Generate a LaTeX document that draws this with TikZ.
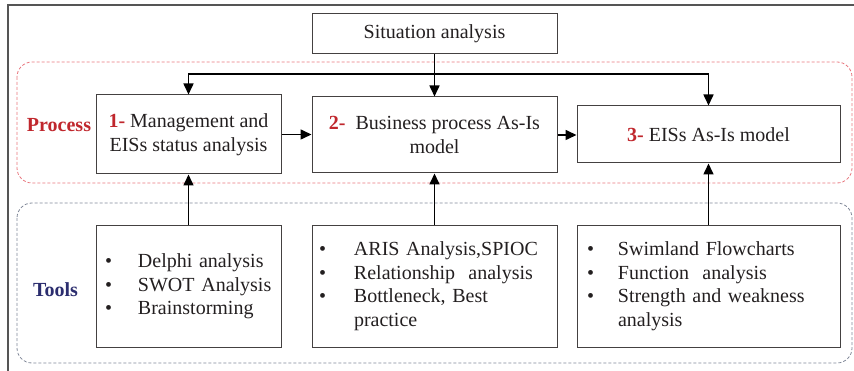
\documentclass[tikz,border=0pt]{standalone}
\usepackage{fontspec}
\setmainfont{Liberation Serif}
\usetikzlibrary{arrows.meta}
\definecolor{procred}{RGB}{192,39,45}
\definecolor{toolblue}{RGB}{43,45,110}
\definecolor{dashred}{RGB}{232,118,126}
\definecolor{dashgrey}{RGB}{128,136,152}
\definecolor{ink}{RGB}{35,31,32}
\definecolor{framegrey}{RGB}{85,85,85}

\begin{document}
\begin{tikzpicture}[x=1pt,y=-1pt,
  txt/.style={font=\fontsize{20}{23.5}\selectfont, text=ink},
  box/.style={txt, draw=ink!85, line width=1pt, inner sep=0pt},
  procbox/.style={box, align=center},
  toolbox/.style={box, minimum height=121pt},
  arr/.style={draw=black, line width=1.6pt, -{Triangle[length=11pt,width=10pt]}},
  group/.style={line width=0.8pt, dash pattern=on 3pt off 2pt, rounded corners=15pt},
  grouplabel/.style={font=\fontsize{20}{23.5}\selectfont\bfseries}
]
\useasboundingbox (0,0) rectangle (854,371);

% outer frame
\draw[framegrey, line width=1.2pt] (8,371) -- (8,5) -- (854,5);

% group frames
\draw[group, draw=dashred] (17,62) rectangle (852,183);
\draw[group, draw=dashgrey] (17,203) rectangle (852,363);

% group labels
\node[grouplabel, text=procred] (proclbl) at (59,125) {Process};
\node[grouplabel, text=toolblue] (toollbl) at (55.5,290) {Tools};

% top box
\node[box, minimum width=245pt, minimum height=40pt] (sit) at (434.5,34) {Situation analysis};

% process steps
\node[procbox, minimum width=185pt, minimum height=79pt] (b1) at (188.5,134.5)
  {{\bfseries\color{procred}1-} Management and\\EISs status analysis};
\node[procbox, minimum width=245pt, minimum height=76pt] (b2) at (434.5,135)
  {{\bfseries\color{procred}2-}\ \ Business process As-Is\\model};
\node[procbox, minimum width=263pt, minimum height=57pt] (b3) at (708.5,134.5)
  {{\bfseries\color{procred}3-} EISs As-Is model};

% tool lists
\node[toolbox, minimum width=185pt, text width=167pt, inner xsep=9pt] (t1) at (188.5,286.5)
  {\begin{tabular}{@{}p{33pt}@{}l@{}}
   \textbullet & Delphi analysis\\
   \textbullet & SWOT Analysis\\
   \textbullet & Brainstorming
   \end{tabular}};
\node[toolbox, minimum width=245pt, text width=231pt, inner xsep=7pt] (t2) at (434.5,286.5)
  {\begin{tabular}{@{}p{35pt}@{}l@{}}
   \textbullet & ARIS Analysis,SPIOC\\
   \textbullet & Relationship\ \ analysis\\
   \textbullet & Bottleneck, Best\\
               & practice
   \end{tabular}};
\node[toolbox, minimum width=263pt, text width=243pt, inner xsep=10pt] (t3) at (708.5,286.5)
  {\begin{tabular}{@{}p{31pt}@{}l@{}}
   \textbullet & Swimland Flowcharts\\
   \textbullet & Function\ \ analysis\\
   \textbullet & Strength and weakness\\
               & analysis
   \end{tabular}};

% connectors
\coordinate (bus) at (0,74);
\draw[arr] (sit.south) -- (b2.north);
\draw[arr] (b2.north |- bus) -| (b1.north);
\draw[arr] (b2.north |- bus) -| (b3.north);
\draw[arr] (b1.east) -- (b1.east -| b2.west);
\draw[arr] (b2.east) -- (b2.east -| b3.west);
\draw[arr] (t1.north) -- (b1.south);
\draw[arr] (t2.north) -- (b2.south);
\draw[arr] (t3.north) -- (b3.south);
\end{tikzpicture}
\end{document}
